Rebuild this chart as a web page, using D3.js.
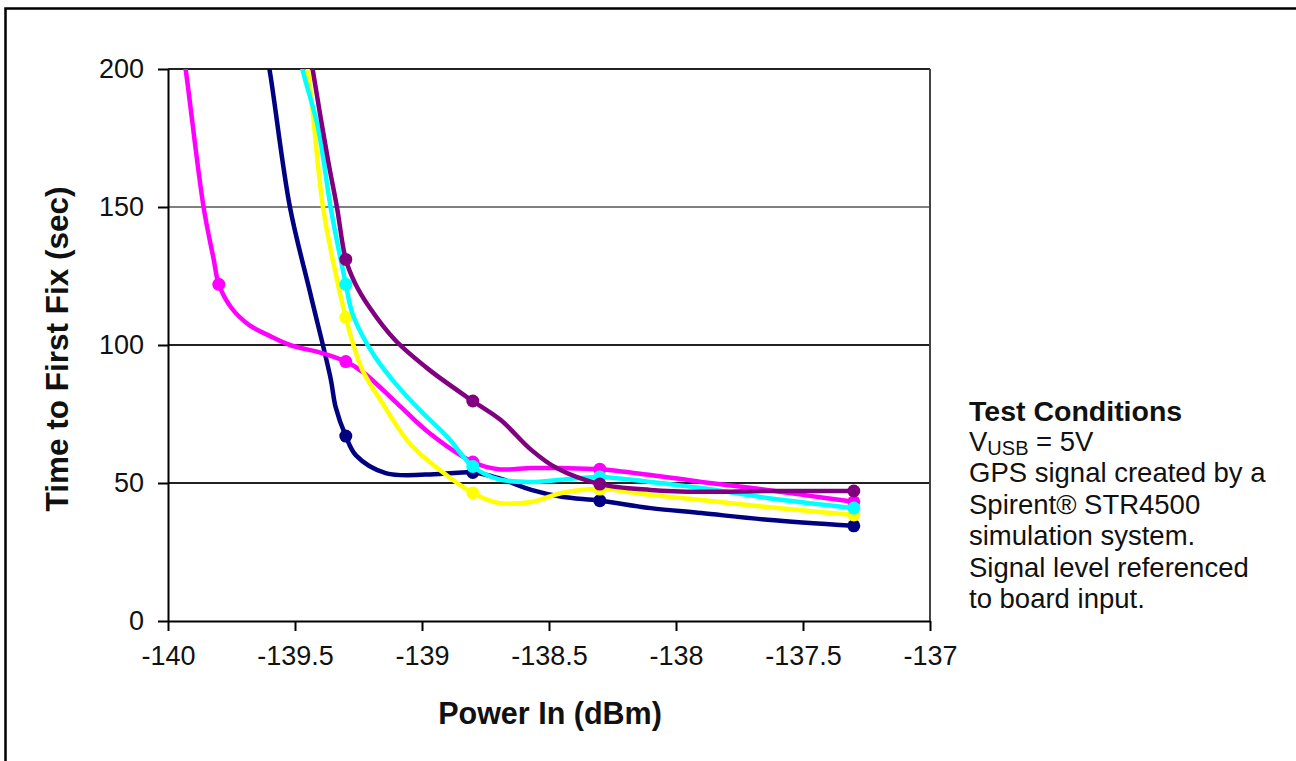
<!DOCTYPE html>
<html>
<head>
<meta charset="utf-8">
<script src="https://cdn.jsdelivr.net/npm/d3@7"></script>
<style>
  body { margin: 0; background: #fff; }
  svg { display: block; font-family: 'Liberation Sans', Arial, sans-serif; }
</style>
</head>
<body>
<script>
// DATA
const xTicks = [-140, -139.5, -139, -138.5, -138, -137.5, -137];
const yTicks = [0, 50, 100, 150, 200];

// power levels where the markers sit
const markerPower = [-139.8, -139.3, -138.8, -138.3, -137.3];

// marker values per series (null = off the top of the chart)
const navyMarkers = [null, 67, 53.8, 43.6, 34.5];
const pinkMarkers = [122, 94, 57.6, 55, 43.2];
const yellowMarkers = [null, 110, 46.4, 47.8, 38.4];
const cyanMarkers = [null, 122, 56, 52.2, 40.9];
const purpleMarkers = [null, 131, 79.7, 49.6, 47.1];

// curves [power, time]
const navyCurve = [
  [-139.63, 214], [-139.6, 199.6], [-139.52, 150], [-139.44, 118.8],
  [-139.36, 88], [-139.34, 77.5], [-139.3, 67], [-139.26, 60],
  [-139.14, 53.5], [-138.93, 53.3], [-138.8, 53.8], [-138.7, 51.8],
  [-138.57, 47.5], [-138.45, 45], [-138.3, 43.6], [-138.1, 40.9],
  [-137.9, 39.1], [-137.64, 36.7], [-137.3, 34.5]
];
const pinkCurve = [
  [-139.95, 212], [-139.93, 199.6], [-139.86, 150], [-139.82, 131],
  [-139.8, 122], [-139.75, 113.4], [-139.68, 107.2], [-139.6, 103.3],
  [-139.52, 100], [-139.39, 97], [-139.3, 94], [-139.23, 90],
  [-139.1, 79], [-138.97, 68], [-138.8, 57.6], [-138.7, 55],
  [-138.57, 55.4], [-138.45, 55.4], [-138.3, 55], [-138.1, 52.9],
  [-137.9, 50.4], [-137.7, 48.2], [-137.5, 45.7], [-137.3, 43.2]
];
const yellowCurve = [
  [-139.48, 212], [-139.45, 199.6], [-139.39, 150], [-139.34, 126],
  [-139.3, 110], [-139.27, 100], [-139.23, 90], [-139.17, 81],
  [-139.05, 64.5], [-138.93, 54.7], [-138.8, 46.4], [-138.7, 42.8],
  [-138.57, 43.1], [-138.45, 46.4], [-138.3, 47.8], [-138.1, 45.7],
  [-137.9, 43.8], [-137.64, 41.3], [-137.3, 38.4]
];
const cyanCurve = [
  [-139.5, 212], [-139.47, 199.6], [-139.41, 179], [-139.36, 150],
  [-139.33, 135.5], [-139.3, 122], [-139.276, 112], [-139.236, 103.6],
  [-139.185, 95.7], [-139.106, 86.2], [-139.008, 76.4], [-138.9, 66.7],
  [-138.8, 56], [-138.7, 51.4], [-138.57, 50.4], [-138.45, 51.2],
  [-138.3, 52.2], [-138.1, 50.4], [-137.9, 48.2], [-137.64, 44.6],
  [-137.3, 40.9]
];
const purpleCurve = [
  [-139.45, 212], [-139.43, 199.6], [-139.37, 167], [-139.335, 150],
  [-139.3, 131], [-139.264, 122.5], [-139.205, 113.4], [-139.106, 101.8],
  [-138.97, 90.9], [-138.8, 79.7], [-138.69, 72.8], [-138.57, 62],
  [-138.47, 55.4], [-138.3, 49.6], [-138.1, 47.5], [-137.9, 46.8],
  [-137.64, 47.1], [-137.3, 47.1]
];

const noteLines = [
  'GPS signal created by a',
  'Spirent\u00AE STR4500',
  'simulation system.',
  'Signal level referenced',
  'to board input.'
];

// LAYOUT
const width = 1296;
const height = 761;
const plotLeft = 168;
const plotRight = 930;
const plotTop = 69;
const plotBottom = 621;

const svg = d3
  .select('body')
  .append('svg')
  .attr('width', width)
  .attr('height', height);

// outer frame, runs off the right and bottom edges
svg
  .append('rect')
  .attr('x', 5.5)
  .attr('y', 8.5)
  .attr('width', 1400)
  .attr('height', 1000)
  .attr('fill', 'none')
  .attr('stroke', '#000')
  .attr('stroke-width', 2.5);

const x = d3.scaleLinear().domain([-140, -137]).range([plotLeft, plotRight]);
const y = d3.scaleLinear().domain([0, 200]).range([plotBottom, plotTop]);

// GRIDLINES
svg
  .append('g')
  .selectAll('line')
  .data(yTicks.filter((d) => d > 0))
  .join('line')
  .attr('x1', plotLeft)
  .attr('x2', plotRight)
  .attr('y1', (d) => y(d))
  .attr('y2', (d) => y(d))
  .attr('stroke', (d) => (d === 150 ? '#808080' : '#222'))
  .attr('stroke-width', 2);

// right border of plot
svg
  .append('line')
  .attr('x1', plotRight)
  .attr('x2', plotRight)
  .attr('y1', plotTop)
  .attr('y2', plotBottom)
  .attr('stroke', '#444')
  .attr('stroke-width', 2);

// AXES
const yAxis = svg
  .append('g')
  .attr('transform', `translate(${plotLeft},0)`)
  .call(
    d3.axisLeft(y).tickValues(yTicks).tickSize(10).tickSizeOuter(0).tickPadding(14)
      .tickFormat((d) => String(d))
  );

const xAxis = svg
  .append('g')
  .attr('transform', `translate(0,${plotBottom})`)
  .call(
    d3.axisBottom(x).tickValues(xTicks).tickSize(10).tickSizeOuter(0).tickPadding(15)
      .tickFormat((d) => String(d))
  );

for (const ax of [xAxis, yAxis]) {
  ax.selectAll('path, line').attr('stroke', '#000').attr('stroke-width', 2);
  ax.selectAll('text')
    .attr('fill', '#111')
    .attr('font-size', 27)
    .attr('font-family', "'Liberation Sans', Arial, sans-serif");
}

// AXIS TITLES
svg
  .append('text')
  .attr('x', (plotLeft + plotRight) / 2 + 1)
  .attr('y', 724)
  .attr('text-anchor', 'middle')
  .attr('font-size', 30.5)
  .attr('font-weight', 'bold')
  .attr('fill', '#111')
  .text('Power In (dBm)');

svg
  .append('text')
  .attr('transform', 'translate(68,349) rotate(-90)')
  .attr('text-anchor', 'middle')
  .attr('font-size', 31.5)
  .attr('font-weight', 'bold')
  .attr('fill', '#111')
  .text('Time to First Fix (sec)');

// SERIES
svg
  .append('clipPath')
  .attr('id', 'plot-clip')
  .append('rect')
  .attr('x', plotLeft)
  .attr('y', plotTop)
  .attr('width', plotRight - plotLeft + 10)
  .attr('height', plotBottom - plotTop);

const series = [
  { color: '#000080', curve: navyCurve, markers: navyMarkers },
  { color: '#ff00ff', curve: pinkCurve, markers: pinkMarkers },
  { color: '#ffff00', curve: yellowCurve, markers: yellowMarkers },
  { color: '#00ffff', curve: cyanCurve, markers: cyanMarkers },
  { color: '#800080', curve: purpleCurve, markers: purpleMarkers }
];

const line = d3
  .line()
  .x((d) => x(d[0]))
  .y((d) => y(d[1]))
  .curve(d3.curveCatmullRom.alpha(0.5));

const g = svg.append('g').attr('clip-path', 'url(#plot-clip)');

for (const s of series) {
  g.append('path')
    .attr('d', line(s.curve))
    .attr('fill', 'none')
    .attr('stroke', s.color)
    .attr('stroke-width', 4.5)
    .attr('stroke-linejoin', 'round');

  const pts = markerPower
    .map((p, i) => [p, s.markers[i]])
    .filter((d) => d[1] !== null);

  g.selectAll(null)
    .data(pts)
    .join('circle')
    .attr('cx', (d) => x(d[0]))
    .attr('cy', (d) => y(d[1]))
    .attr('r', 6.5)
    .attr('fill', s.color);
}

// TEST CONDITIONS NOTE
const note = svg
  .append('g')
  .attr('fill', '#111')
  .attr('font-size', 27.5);

note
  .append('text')
  .attr('x', 969)
  .attr('y', 421)
  .attr('font-weight', 'bold')
  .attr('font-size', 28.5)
  .text('Test Conditions');

const vusb = note.append('text').attr('x', 969).attr('y', 451);
vusb.append('tspan').text('V');
vusb.append('tspan').attr('font-size', 20).attr('dy', 4).text('USB');
vusb.append('tspan').attr('dy', -4).text(' = 5V');

note
  .selectAll(null)
  .data(noteLines)
  .join('text')
  .attr('x', 969)
  .attr('y', (d, i) => 482 + i * 31.5)
  .text((d) => d);
</script>
</body>
</html>
